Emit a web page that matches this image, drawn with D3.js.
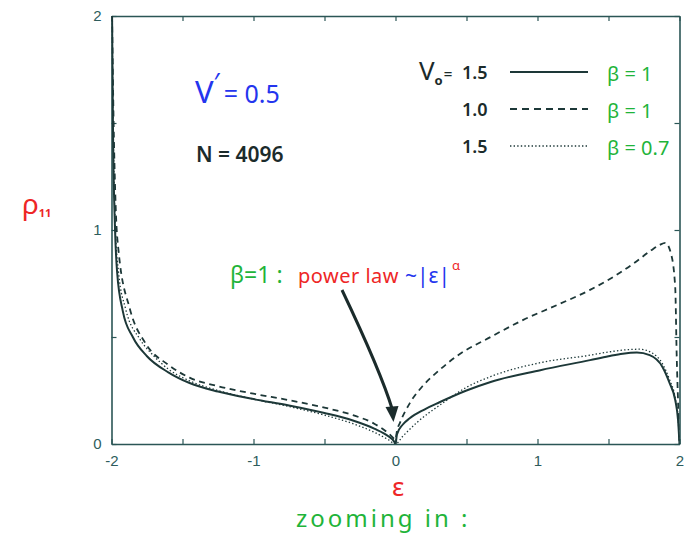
<!DOCTYPE html>
<html>
<head>
<meta charset="utf-8">
<script src="https://cdn.jsdelivr.net/npm/d3@7"></script>
<style>
  html, body { margin: 0; padding: 0; background: #fff; }
  svg { display: block; }
  .tick text { font-family: "Liberation Sans", Arial, sans-serif; font-size: 15px; fill: #2e5c5c; }
  .hand { font-family: "Noto Sans", "DejaVu Sans", sans-serif; }
</style>
</head>
<body>
<svg id="chart" width="698" height="540"></svg>
<script>
// Energy grid (ε) and density values ρ11 for the three parameter sets
const solidX  = [-1.996, -1.99, -1.975, -1.96, -1.92, -1.85, -1.75, -1.6, -1.45, -1.25, -1.0, -0.75, -0.5, -0.3, -0.15, -0.05, -0.01, 0,
                 0.01, 0.05, 0.1, 0.2, 0.31, 0.5, 0.67, 1.02, 1.37, 1.5, 1.6, 1.7, 1.79, 1.88, 1.93, 1.97, 1.99, 2.0];
const solidY  = [2.0, 1.5, 1.0, 0.8, 0.62, 0.5, 0.41, 0.335, 0.285, 0.245, 0.21, 0.18, 0.145, 0.11, 0.072, 0.036, 0.012, 0,
                 0.045, 0.09, 0.12, 0.16, 0.195, 0.25, 0.29, 0.345, 0.392, 0.41, 0.422, 0.427, 0.415, 0.36, 0.285, 0.205, 0.11, 0.0];

const dashedX = [-1.996, -1.985, -1.97, -1.95, -1.87, -1.76, -1.6, -1.45, -1.25, -1.0, -0.75, -0.5, -0.3, -0.15, -0.05, -0.01, 0,
                 0.01, 0.032, 0.1, 0.19, 0.3, 0.43, 0.67, 0.9, 1.14, 1.37, 1.58, 1.68, 1.8, 1.86, 1.9, 1.94, 1.97, 1.98, 1.995, 2.0];
const dashedY = [2.0, 1.5, 1.1, 0.9, 0.63, 0.47, 0.37, 0.31, 0.27, 0.235, 0.205, 0.17, 0.135, 0.095, 0.05, 0.025, 0.02,
                 0.06, 0.1, 0.19, 0.27, 0.34, 0.41, 0.5, 0.58, 0.65, 0.72, 0.8, 0.845, 0.905, 0.93, 0.94, 0.89, 0.73, 0.42, 0.1, 0.0];

const dottedX = [-1.996, -1.99, -1.975, -1.95, -1.9, -1.8, -1.7, -1.6, -1.45, -1.25, -1.0, -0.75, -0.5, -0.3, -0.15, -0.05, 0,
                 0.05, 0.15, 0.33, 0.5, 0.67, 1.02, 1.37, 1.5, 1.62, 1.72, 1.8, 1.88, 1.93, 1.97, 1.99, 2.0];
const dottedY = [2.0, 1.6, 1.05, 0.8, 0.63, 0.49, 0.41, 0.35, 0.295, 0.25, 0.21, 0.175, 0.135, 0.095, 0.055, 0.02, 0,
                 0.035, 0.1, 0.19, 0.265, 0.315, 0.38, 0.415, 0.43, 0.44, 0.443, 0.428, 0.375, 0.30, 0.215, 0.12, 0.0];

const xTicks = [-2, -1.5, -1, -0.5, 0, 0.5, 1, 1.5, 2];
const yTicks = [0, 0.5, 1, 1.5, 2];
const xTickLabels = ["-2", "", "-1", "", "0", "", "1", "", "2"];
const yTickLabels = ["0", "", "1", "", "2"];

const svg = d3.select("#chart");
const plot = { left: 111.5, right: 679.5, top: 16, bottom: 444 };

const x = d3.scaleLinear().domain([-2, 2]).range([plot.left, plot.right]);
const y = d3.scaleLinear().domain([0, 2]).range([plot.bottom, plot.top]);

const axisColor = "#2b5656";
const lineColor = "#1d3838";

svg.append("defs").append("clipPath").attr("id", "plotClip")
  .append("rect")
  .attr("x", plot.left).attr("y", plot.top)
  .attr("width", plot.right - plot.left).attr("height", plot.bottom - plot.top);

// Frame and inward ticks on all four sides
function styleAxis(g) {
  g.select(".domain").attr("stroke", axisColor).attr("stroke-width", 1.6);
  g.selectAll(".tick line").attr("stroke", axisColor).attr("stroke-width", 1.2);
}
svg.append("g").attr("transform", `translate(0,${plot.bottom})`)
  .call(d3.axisBottom(x).tickValues(xTicks).tickSizeInner(-5).tickSizeOuter(0).tickPadding(11)
        .tickFormat((d, i) => xTickLabels[i]))
  .call(styleAxis);
svg.append("g").attr("transform", `translate(0,${plot.top})`)
  .call(d3.axisTop(x).tickValues(xTicks).tickSizeInner(-5).tickSizeOuter(0).tickFormat(""))
  .call(styleAxis);
svg.append("g").attr("transform", `translate(${plot.left},0)`)
  .call(d3.axisLeft(y).tickValues(yTicks).tickSizeInner(-5).tickSizeOuter(0).tickPadding(10)
        .tickFormat((d, i) => yTickLabels[i]))
  .call(styleAxis);
svg.append("g").attr("transform", `translate(${plot.right},0)`)
  .call(d3.axisRight(y).tickValues(yTicks).tickSizeInner(-5).tickSizeOuter(0).tickFormat(""))
  .call(styleAxis);

// Curves
const line = d3.line().x(d => x(d[0])).y(d => y(d[1])).curve(d3.curveMonotoneX);
const series = [
  { xs: dottedX, ys: dottedY, dash: "1.4,2.2", width: 1.3 },
  { xs: dashedX, ys: dashedY, dash: "6,4.5", width: 1.8 },
  { xs: solidX,  ys: solidY,  dash: null, width: 2.0 }
];
const curves = svg.append("g").attr("clip-path", "url(#plotClip)");
series.forEach(s => {
  curves.append("path")
    .datum(d3.zip(s.xs, s.ys))
    .attr("d", line)
    .attr("fill", "none")
    .attr("stroke", lineColor)
    .attr("stroke-width", s.width)
    .attr("stroke-dasharray", s.dash);
});

// Annotations
const blue = "#2435ee", green = "#1fb43a", red = "#ee2626", ink = "#1b2b2b";

const vp = svg.append("text").attr("class", "hand").attr("x", 195).attr("y", 103)
  .attr("fill", blue).attr("font-size", 31);
vp.append("tspan").text("V");
vp.append("tspan").attr("font-size", 26).attr("dy", -12).text("′");
vp.append("tspan").attr("dy", 12).attr("font-size", 25).attr("dx", 4).text("= 0.5");

svg.append("text").attr("class", "hand").attr("x", 196).attr("y", 162)
  .attr("fill", ink).attr("font-size", 21).attr("font-weight", 600).text("N = 4096");

// Legend
const legendRows = [
  { label: "1.5", beta: "β = 1", dash: null, width: 2.2, yRow: 72 },
  { label: "1.0", beta: "β = 1", dash: "7,5", width: 2.0, yRow: 109 },
  { label: "1.5", beta: "β = 0.7", dash: "1.4,2.2", width: 1.3, yRow: 146 }
];
const v0 = svg.append("text").attr("class", "hand").attr("x", 419).attr("y", 80)
  .attr("fill", ink).attr("font-size", 26);
v0.append("tspan").text("V");
v0.append("tspan").attr("font-size", 13).attr("font-weight", 700).attr("dy", 5).text("o");
v0.append("tspan").attr("font-size", 15).attr("font-weight", 600).attr("dx", 1).attr("dy", -6).text("=");

legendRows.forEach(r => {
  svg.append("text").attr("class", "hand").attr("x", 462).attr("y", r.yRow + 7)
    .attr("fill", ink).attr("font-size", 18).attr("font-weight", 600).text(r.label);
  svg.append("line").attr("x1", 510).attr("x2", 588).attr("y1", r.yRow).attr("y2", r.yRow)
    .attr("stroke", lineColor).attr("stroke-width", r.width).attr("stroke-dasharray", r.dash);
  svg.append("text").attr("class", "hand").attr("x", 607).attr("y", r.yRow + 9)
    .attr("fill", green).attr("font-size", 20).text(r.beta);
});

// Y-axis label ρ11
const rho = svg.append("text").attr("class", "hand").attr("x", 22).attr("y", 214)
  .attr("fill", red).attr("font-size", 28);
rho.append("tspan").text("ρ");
rho.append("tspan").attr("font-size", 11).attr("font-weight", 700).attr("dy", 3).text("11");

// X-axis label ε
svg.append("text").attr("class", "hand").attr("x", 398).attr("y", 496)
  .attr("text-anchor", "middle").attr("fill", red).attr("font-size", 26).text("ε");

svg.append("text").attr("class", "hand").attr("x", 296).attr("y", 527)
  .attr("fill", green).attr("font-size", 24).attr("letter-spacing", 3).text("zooming in :");

// Power-law annotation
const annY = 283;
svg.append("text").attr("class", "hand").attr("x", 230).attr("y", annY)
  .attr("font-size", 23).attr("fill", green).text("β=1 :");
svg.append("text").attr("class", "hand").attr("x", 298).attr("y", annY)
  .attr("font-size", 20).attr("fill", red).attr("letter-spacing", 0.5).text("power law");
const pl = svg.append("text").attr("class", "hand").attr("x", 405).attr("y", annY)
  .attr("font-size", 21).attr("fill", blue).text("~|ε|");
pl.append("tspan").attr("fill", red).attr("font-size", 13).attr("dx", 2).attr("dy", -13).text("α");

// Arrow to the cusp at ε = 0
const tip = [x(0) - 2, y(0) - 22];
svg.append("path")
  .attr("d", `M342,290 Q381,372 ${tip[0] - 1},${tip[1] - 12}`)
  .attr("fill", "none").attr("stroke", ink).attr("stroke-width", 3);
svg.append("path")
  .attr("d", `M${tip[0]},${tip[1]} L${tip[0] - 8},${tip[1] - 15} L${tip[0] + 5},${tip[1] - 16} Z`)
  .attr("fill", ink);
</script>
</body>
</html>
